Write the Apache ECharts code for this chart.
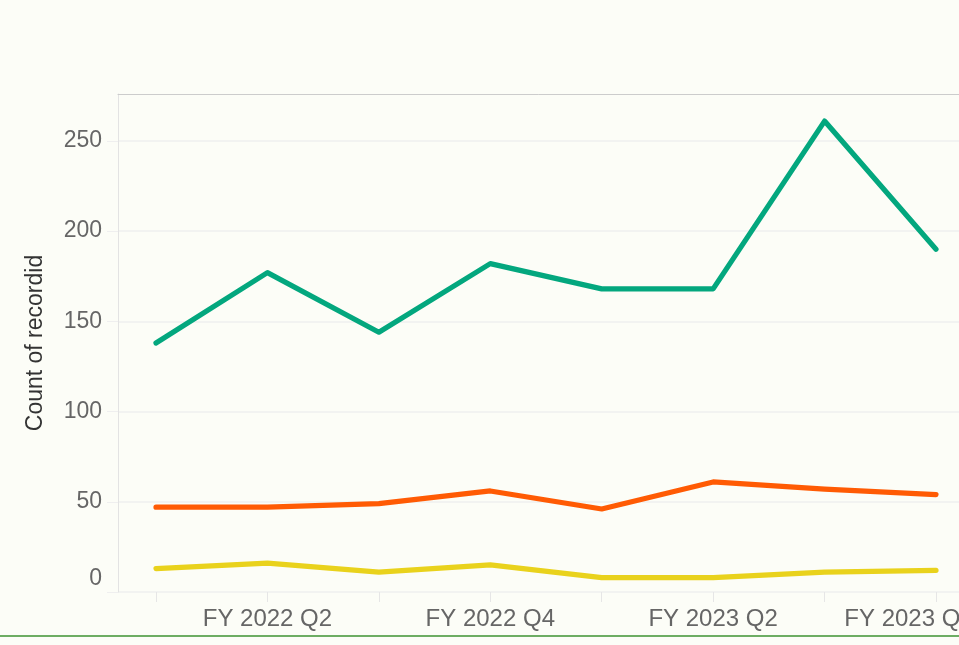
<!DOCTYPE html>
<html>
  <head>
    <meta charset="utf-8" />
    <title>Count of recordid</title>
    <script src="https://cdn.jsdelivr.net/npm/echarts@6/dist/echarts.min.js"></script>
    <style>
      html, body { margin: 0; padding: 0; background: #fcfdf7; }
      #main { width: 959px; height: 645px; }
    </style>
  </head>

  <body>
    <div id="main"></div>
    <script type="text/javascript">
      // 数据
      var quarters = [
        "FY 2022 Q1", "FY 2022 Q2", "FY 2022 Q3", "FY 2022 Q4",
        "FY 2023 Q1", "FY 2023 Q2", "FY 2023 Q3", "FY 2023 Q4"
      ];
      var greenValues = [138, 177, 144, 182, 168, 168, 261, 190];
      var orangeValues = [47, 47, 49, 56, 46, 61, 57, 54];
      var yellowValues = [13, 16, 11, 15, 8, 8, 11, 12];
      var xTickIdx = [0, 1, 2, 3, 4, 5, 6, 7];
      var xLabelIdx = [1, 3, 5, 7];
      var yTicks = [0, 50, 100, 150, 200, 250];

      var font = "Liberation Sans, Arial, sans-serif";

      function pairs(values) {
        return values.map(function (v, i) { return [i, v]; });
      }

      function lineSeries(name, values, color) {
        return {
          name: name,
          type: "line",
          data: pairs(values),
          showSymbol: false,
          lineStyle: { color: color, width: 5.2, cap: "round", join: "round" },
          itemStyle: { color: color },
        };
      }

      var myChart = echarts.init(document.getElementById("main"));
      var option = {
        backgroundColor: "#fcfdf7",
        animation: false,
        grid: { left: 118, right: -15, top: 94, bottom: 53, outerBoundsMode: "none" },
        xAxis: [
          {
            type: "value",
            min: -0.341,
            max: 7.341,
            axisLine: { show: false },
            splitLine: { show: false },
            axisTick: {
              show: true,
              customValues: xTickIdx,
              length: 10,
              lineStyle: { color: "#e6e6e6" },
            },
            axisLabel: {
              customValues: xLabelIdx,
              // 最后一个标签向左收一点
              formatter: function (v) {
                return v === quarters.length - 1 ? "{last|" + quarters[v] + "}" : quarters[v];
              },
              color: "#666",
              fontSize: 24,
              fontFamily: font,
              margin: 15,
              rich: {
                last: { color: "#666", fontSize: 24, fontFamily: font, padding: [0, 54, 0, 0] },
              },
            },
          },
          {
            type: "value",
            position: "top",
            min: -0.341,
            max: 7.341,
            axisLine: { show: true, lineStyle: { color: "#cccccc", width: 1 } },
            axisTick: { show: false },
            axisLabel: { show: false },
            splitLine: { show: false },
          },
        ],
        yAxis: {
          type: "value",
          min: 0,
          max: 276,
          interval: 50,
          name: "Count of recordid",
          nameLocation: "middle",
          nameGap: 71,
          nameTextStyle: { color: "#333", fontSize: 23, fontFamily: font },
          axisLine: { show: true, onZero: false, lineStyle: { color: "#e3e3e3" } },
          axisTick: {
            show: true,
            customValues: yTicks,
            length: 11,
            lineStyle: { color: "#efefef" },
          },
          splitLine: { show: true, lineStyle: { color: "#efefef", width: 1.5 } },
          axisLabel: {
            customValues: yTicks,
            color: "#666",
            fontSize: 23,
            fontFamily: font,
            margin: 16,
            formatter: function (v) {
              return v === 0 ? "{z|0}" : String(v);
            },
            rich: {
              z: { color: "#666", fontSize: 23, fontFamily: font, padding: [0, 0, 26, 0] },
            },
          },
        },
        series: [
          lineSeries("green", greenValues, "#03a77e"),
          lineSeries("orange", orangeValues, "#ff5b04"),
          lineSeries("yellow", yellowValues, "#e9d21c"),
        ],
        graphic: [
          {
            type: "rect",
            left: 0,
            top: 635,
            shape: { width: 959, height: 2 },
            style: { fill: "#6dad63" },
            silent: true,
          },
        ],
      };
      myChart.setOption(option);
    </script>
  </body>
</html>
